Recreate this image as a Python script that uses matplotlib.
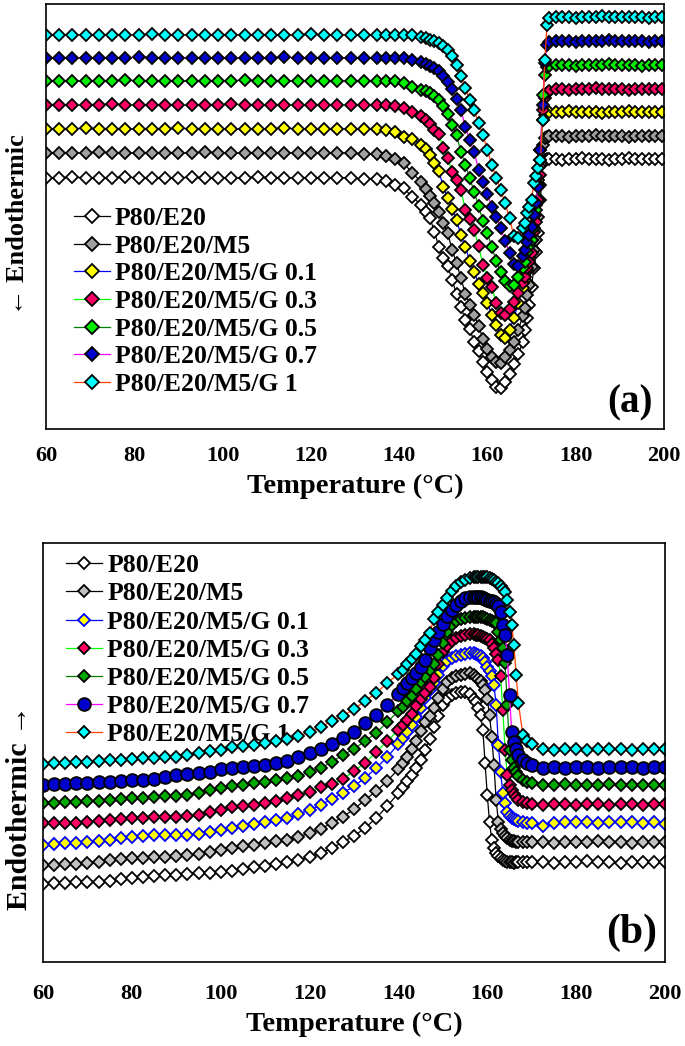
import matplotlib
matplotlib.use("Agg")
import matplotlib.pyplot as plt

# ======================================================
# DATA  (heat flow in arbitrary units)
# ======================================================

NAMES = [
    "P80/E20",
    "P80/E20/M5",
    "P80/E20/M5/G 0.1",
    "P80/E20/M5/G 0.3",
    "P80/E20/M5/G 0.5",
    "P80/E20/M5/G 0.7",
    "P80/E20/M5/G 1",
]

# ---- (a) heating / melting ----
T_A = [60, 63, 66, 69, 72, 75, 78, 81, 84, 87, 90, 93, 96, 99, 102, 105, 108, 111, 114, 117, 120, 123, 126, 129, 132, 135,
       137, 139, 141, 143,
       145, 146, 147, 148, 149, 150, 151, 152, 153, 154, 155, 156, 157, 158, 159, 160, 161, 162, 163, 164, 165, 166, 167, 168,
       168.5, 169, 169.5, 170, 170.5, 171, 171.5, 172, 172.5, 173, 173.5, 174,
       175.5, 177, 178.5, 180, 181.5, 183, 184.5, 186, 187.5, 189, 190.5, 192, 193.5, 195, 196.5, 198, 199.5]

a_pe = [178, 178, 177, 178, 178, 178, 177, 178, 178, 178, 178, 177, 178, 178, 178, 178, 177, 178, 178, 178, 178, 178, 178, 178, 179, 179,
        181, 185, 188, 197,
        205, 212, 218, 232, 247, 258, 266, 280, 294, 307, 320, 329, 342, 351, 362, 372, 380, 387, 388, 382, 374, 364, 354, 342,
        330, 318, 305, 287, 268, 252, 233, 200, 163, 160, 159, 159,
        159, 160, 159, 159, 158, 159, 159, 159, 160, 159, 159, 158, 159, 159, 159, 159, 159]
a_pem = [153, 153, 153, 153, 152, 153, 153, 153, 153, 153, 153, 153, 152, 153, 153, 153, 153, 153, 153, 153, 153, 153, 153, 153, 154, 154,
         156, 159, 163, 173,
         182, 189, 196, 203, 212, 223, 233, 250, 263, 278, 294, 305, 315, 326, 339, 349, 357, 362, 363, 357, 350, 342, 330, 316,
         308, 295, 285, 267, 250, 240, 217, 185, 145, 138, 137, 136,
         136, 136, 137, 136, 136, 136, 135, 136, 136, 136, 136, 137, 136, 136, 136, 136, 136]
a_g01 = [129, 129, 129, 128, 129, 129, 129, 129, 129, 129, 128, 129, 129, 129, 129, 129, 129, 129, 128, 129, 129, 129, 129, 129, 129, 129,
         130, 132, 137, 139,
         145, 149, 155, 163, 171, 187, 198, 209, 220, 235, 247, 261, 272, 284, 293, 303, 315, 325, 335, 338, 330, 318, 303, 288,
         280, 270, 260, 240, 216, 205, 180, 150, 120, 115, 113, 112,
         112, 112, 111, 112, 112, 112, 112, 113, 112, 112, 112, 111, 112, 112, 112, 112, 112]
a_g03 = [105, 105, 105, 105, 105, 104, 105, 105, 105, 105, 105, 105, 105, 105, 104, 105, 105, 105, 105, 105, 105, 105, 105, 105, 105, 105,
         105, 106, 108, 112,
         116, 120, 124, 130, 134, 148, 158, 172, 180, 190, 210, 219, 230, 246, 265, 278, 287, 303, 313, 315, 309, 302, 293, 283,
         277, 268, 262, 253, 232, 222, 200, 175, 110, 98, 93, 91,
         89, 89, 90, 89, 89, 89, 88, 89, 89, 89, 89, 90, 89, 89, 89, 89, 89]
a_g05 = [81, 81, 81, 81, 81, 81, 80, 81, 81, 81, 81, 81, 81, 81, 81, 80, 81, 81, 81, 81, 81, 81, 81, 81, 81, 81,
         81, 81, 83, 87,
         90, 91, 93, 96, 100, 106, 114, 125, 135, 152, 165, 178, 192, 206, 221, 233, 247, 261, 272, 281, 286, 285, 277, 268,
         262, 252, 246, 240, 228, 210, 185, 160, 95, 75, 67, 66,
         65, 65, 65, 66, 65, 65, 65, 65, 64, 65, 65, 65, 65, 66, 65, 65, 65]
a_g07 = [58, 58, 58, 58, 58, 58, 58, 57, 58, 58, 58, 58, 58, 58, 58, 58, 58, 58, 57, 58, 58, 58, 58, 58, 58, 58,
         58, 58, 58, 60,
         62, 64, 66, 68, 71, 76, 82, 89, 99, 110, 127, 140, 152, 170, 182, 194, 207, 217, 228, 241, 253, 264, 266, 256,
         250, 242, 235, 227, 215, 203, 187, 150, 105, 63, 45, 42,
         41, 41, 41, 42, 41, 41, 41, 41, 40, 41, 41, 41, 41, 41, 42, 41, 41]
a_g1 = [35, 35, 35, 35, 35, 35, 35, 35, 34, 35, 35, 35, 35, 35, 35, 35, 35, 35, 35, 35, 34, 35, 35, 35, 35, 35,
        35, 35, 35, 35,
        37, 38, 40, 41, 43, 46, 50, 56, 65, 76, 88, 100, 110, 123, 135, 150, 165, 178, 190, 203, 218, 236, 238, 228,
        223, 213, 207, 200, 183, 176, 168, 160, 120, 60, 25, 18,
        17, 17, 17, 18, 17, 17, 17, 16, 17, 17, 17, 17, 17, 17, 18, 17, 17]

# ---- (b) cooling / crystallisation ----
T_B = [60, 62.5, 65, 67.5, 70, 72.5, 75, 77.5, 80, 82.5, 85, 87.5, 90, 92.5, 95, 97.5, 100, 102.5, 105, 107.5,
       110, 112.5, 115, 117.5, 120, 122.5, 125, 127.5, 130, 132.5, 135, 137.5,
       140, 141, 142, 143, 144, 145, 146, 147, 148, 149, 150, 151, 152, 153, 154, 155, 156,
       157, 157.5, 158, 158.5, 159, 159.5, 160, 160.5, 161, 161.5, 162, 162.5, 163, 163.5, 164, 164.5, 165, 165.5, 166, 166.5, 167,
       168, 169, 170,
       172.5, 175, 177.5, 180, 182.5, 185, 187.5, 190, 192.5, 195, 197.5, 200]

b_pe = [884, 883, 883, 882, 882, 882, 881, 879, 878, 877, 876, 875, 875, 874, 873, 873, 872, 871, 869, 867,
        866, 864, 862, 860, 857, 853, 848, 842, 836, 828, 818, 806,
        793, 787, 781, 775, 768, 760, 750, 739, 727, 716, 705, 699, 695, 693, 692, 692, 694,
        699, 702, 708, 715, 730, 763, 795, 822, 840, 848, 853, 856, 858, 860, 861, 862, 862, 862, 863, 862, 862,
        862, 862, 862,
        862, 863, 862, 862, 861, 862, 862, 863, 862, 862, 862, 862]
b_pem = [865, 865, 864, 864, 863, 862, 860, 859, 858, 858, 857, 857, 856, 855, 854, 852, 850, 848, 846, 845,
         843, 841, 840, 837, 833, 829, 823, 817, 809, 800, 791, 781,
         769, 763, 757, 749, 741, 731, 722, 716, 708, 698, 689, 682, 678, 676, 675, 674, 673,
         675, 677, 679, 681, 685, 690, 699, 715, 737, 765, 800, 822, 829, 833, 836, 838, 840, 841, 841, 842, 842,
         842, 842, 842,
         842, 843, 842, 842, 842, 841, 842, 842, 843, 842, 842, 842]
b_g01 = [845, 844, 843, 843, 842, 841, 840, 838, 837, 836, 835, 835, 835, 835, 834, 832, 830, 828, 826, 824,
         822, 820, 818, 814, 810, 805, 799, 793, 786, 778, 768, 757,
         744, 738, 732, 725, 717, 708, 698, 690, 683, 675, 666, 661, 658, 656, 655, 654, 653,
         653, 654, 655, 656, 658, 662, 667, 671, 676, 685, 705, 745, 772, 793, 803, 812, 816, 818, 819, 820, 821,
         822, 823, 823,
         826, 823, 822, 822, 822, 823, 822, 822, 822, 823, 822, 824]
b_g03 = [823, 823, 823, 823, 822, 821, 820, 819, 818, 818, 817, 817, 817, 816, 815, 812, 810, 807, 806, 805,
         803, 801, 798, 795, 792, 787, 784, 779, 771, 763, 752, 741,
         730, 725, 720, 714, 706, 699, 693, 687, 678, 664, 652, 646, 641, 638, 636, 635, 634,
         634, 635, 635, 636, 637, 638, 639, 640, 644, 648, 654, 660, 676, 710, 750, 775, 785, 790, 794, 797, 800,
         802, 803, 804,
         805, 804, 804, 805, 804, 804, 805, 804, 804, 805, 804, 804]
b_g05 = [803, 803, 802, 802, 801, 801, 800, 799, 798, 798, 797, 796, 796, 795, 793, 790, 788, 786, 785, 783,
         782, 780, 778, 776, 772, 768, 762, 755, 749, 741, 733, 722,
         711, 707, 701, 696, 689, 682, 677, 670, 664, 655, 643, 632, 625, 621, 619, 618, 617,
         617, 617, 617, 617, 617, 618, 619, 620, 621, 622, 623, 632, 640, 648, 663, 705, 750, 760, 768, 772, 776,
         780, 782, 783,
         785, 785, 784, 785, 785, 785, 784, 785, 785, 785, 785, 785]
b_g07 = [785, 784, 784, 783, 783, 782, 782, 781, 780, 780, 779, 777, 775, 774, 773, 772, 769, 768, 767, 766,
         765, 763, 761, 757, 753, 749, 744, 738, 732, 723, 715, 705,
         694, 688, 683, 678, 673, 667, 660, 648, 640, 632, 624, 616, 610, 605, 601, 598, 597,
         597, 597, 597, 597, 598, 599, 600, 601, 601, 602, 604, 606, 612, 625, 635, 655, 695, 732, 742, 749, 755,
         760, 763, 765,
         768, 767, 768, 767, 767, 768, 767, 767, 767, 768, 767, 767]
b_g1 = [764, 763, 763, 762, 762, 761, 760, 760, 759, 758, 758, 757, 757, 755, 753, 751, 750, 747, 746, 745,
        743, 741, 739, 736, 732, 727, 721, 716, 709, 701, 693, 683,
        674, 670, 664, 659, 654, 646, 640, 633, 619, 612, 605, 598, 591, 586, 582, 580, 578,
        577, 577, 577, 577, 577, 577, 577, 578, 579, 580, 582, 583, 586, 589, 592, 600, 612, 625, 645, 675, 703,
        735, 741, 744,
        749, 750, 749, 749, 750, 749, 749, 749, 750, 749, 749, 749]

# ======================================================
# STYLE
# ======================================================

LINE_COLORS = ["black", "black", "#0000FF", "#00FF00", "#008000", "#FF00FF", "#FF4000"]

FACE_A = ["white", "#A0A0A0", "#FFFF00", "#FF0066", "#00EE00", "#0000CC", "#00FFFF"]
EDGE_A = ["black"] * 7
MARK_A = ["D"] * 7
SIZE_A = [5.9] * 7

FACE_B = ["white", "#C0C0C0", "#FFFF00", "#FF0066", "#00AA00", "#0000CC", "#00FFFF"]
EDGE_B = ["black", "black", "#0000FF", "black", "black", "black", "black"]
MARK_B = ["D", "D", "D", "D", "D", "o", "D"]
SIZE_B = [5.9, 5.9, 5.9, 5.9, 5.9, 9.2, 5.9]

plt.rcParams["font.family"] = ["Liberation Serif", "DejaVu Serif"]
plt.rcParams["font.weight"] = "bold"
plt.rcParams["axes.linewidth"] = 1.2

W, H = 685, 1046
fig = plt.figure(figsize=(W / 100, H / 100), dpi=100)

ax_a = fig.add_axes([46 / W, 1 - 429 / H, 618 / W, 425 / H])
ax_b = fig.add_axes([43 / W, 1 - 962 / H, 622 / W, 419 / H])


def draw(ax, temps, series, faces, edges, marks, sizes, tick_pad, label_pad):
    for name, y, lc, fc, ec, mk, ms in zip(NAMES, series, LINE_COLORS, faces, edges, marks, sizes):
        ax.plot(temps, y, color=lc, lw=0.9, marker=mk, ms=ms,
                mfc=fc, mec=ec, mew=1.3, label=name)
    ax.set_xlim(60, 200)
    ax.set_xticks(range(60, 201, 20))
    ax.set_yticks([])
    ax.tick_params(axis="x", length=0, pad=tick_pad, labelsize=16)
    for lab in ax.get_xticklabels():
        lab.set_fontweight("bold")
    ax.set_xlabel("Temperature (°C)", fontsize=20.5, fontweight="bold", labelpad=label_pad)


# ======================================================
# (a)
# ======================================================

draw(ax_a, T_A, [a_pe, a_pem, a_g01, a_g03, a_g05, a_g07, a_g1],
     FACE_A, EDGE_A, MARK_A, SIZE_A, tick_pad=12, label_pad=6)
ax_a.set_ylim(429, 4)
ax_a.set_ylabel("← Endothermic", fontsize=19, fontweight="bold")
ax_a.yaxis.set_label_coords(-0.0275, 0.48)
ax_a.text(0.945, 0.061, "(a)", transform=ax_a.transAxes, ha="center", va="center",
          fontsize=28, fontweight="bold")
ax_a.legend(loc="upper left", bbox_to_anchor=(0.045, 0.522), frameon=False,
            prop={"size": 18.5, "weight": "bold"}, handlelength=1.4, handletextpad=0.2,
            labelspacing=0.18, borderpad=0, borderaxespad=0, markerscale=1.2)

# ======================================================
# (b)
# ======================================================

draw(ax_b, T_B, [b_pe, b_pem, b_g01, b_g03, b_g05, b_g07, b_g1],
     FACE_B, EDGE_B, MARK_B, SIZE_B, tick_pad=15.5, label_pad=6)
ax_b.set_ylim(962, 543)
ax_b.set_ylabel("Endothermic →", fontsize=21.5, fontweight="bold")
ax_b.yaxis.set_label_coords(-0.016, 0.368)
ax_b.text(0.947, 0.069, "(b)", transform=ax_b.transAxes, ha="center", va="center",
          fontsize=30, fontweight="bold")
leg = ax_b.legend(loc="upper left", bbox_to_anchor=(0.037, 0.973), frameon=False,
                  prop={"size": 18.5, "weight": "bold"}, handlelength=1.4, handletextpad=0.2,
                  labelspacing=0.2, borderpad=0, borderaxespad=0)
leg.set_zorder(1)

fig.savefig("out.png", dpi=100)
